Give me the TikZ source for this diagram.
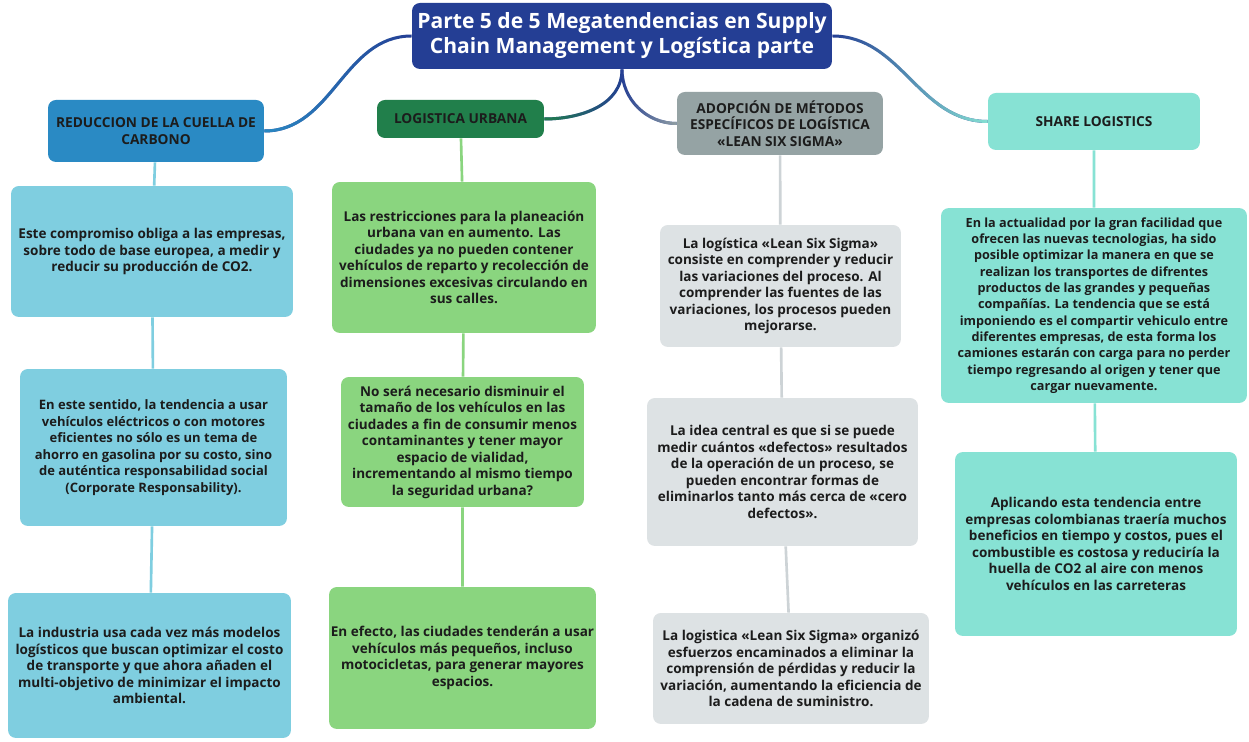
\documentclass[tikz,border=0pt]{standalone}
\usepackage{fontspec}
\setmainfont{Open Sans}
\usetikzlibrary{fadings}

\definecolor{rootblue}{HTML}{243E94}
\definecolor{textdark}{HTML}{1C1C1C}
\definecolor{carbonhead}{HTML}{2A8AC4}
\definecolor{carbonnote}{HTML}{7FCEE0}
\definecolor{urbanhead}{HTML}{217F4B}
\definecolor{urbannote}{HTML}{8AD57F}
\definecolor{leanhead}{HTML}{95A3A4}
\definecolor{leannote}{HTML}{DDE2E4}
\definecolor{leanline}{HTML}{CDD3D6}
\definecolor{sharenote}{HTML}{87E2D4}

\tikzfading[name=fadeleft, left color=transparent!0, right color=transparent!100]
\tikzfading[name=faderight, left color=transparent!100, right color=transparent!0]

\tikzset{
    topic/.style={rounded corners=4.5pt, inner sep=0pt, align=center, text=textdark,
        font=\bfseries\fontsize{7.8}{9.3}\selectfont},
    note/.style={topic, font=\bfseries\fontsize{7.7}{9.4}\selectfont},
    branch/.style={line width=1.7pt},
    twig/.style={line width=1.5pt},
}

\begin{document}
\begin{tikzpicture}[x=0.02cm, y=-0.02cm]
    \fill[white] (0,0) rectangle (1249,742);
    \useasboundingbox (0,0) rectangle (1249,742);

    \node[topic, fill=rootblue, text=white, minimum width=8.4cm, minimum height=1.32cm,
        font=\bfseries\fontsize{12}{14.2}\selectfont] (root) at (622,36)
        {Parte 5 de 5 Megatendencias en Supply\\Chain Management y Logística parte};

    \node[topic, fill=carbonhead, minimum width=4.32cm, minimum height=1.24cm] (carbon) at (156,131)
        {REDUCCION DE LA CUELLA DE\\CARBONO};
    \node[topic, fill=urbanhead, minimum width=3.34cm, minimum height=0.76cm] (urban) at (460.5,119)
        {LOGISTICA URBANA};
    \node[topic, fill=leanhead, minimum width=4.12cm, minimum height=1.26cm] (lean) at (780,123.5)
        {ADOPCIÓN DE MÉTODOS\\ESPECÍFICOS DE LOGÍSTICA\\«LEAN SIX SIGMA»};
    \node[topic, fill=sharenote, minimum width=4.24cm, minimum height=1.14cm] (share) at (1094,121.5)
        {SHARE LOGISTICS};

    \node[note, fill=carbonnote, minimum width=5.64cm, minimum height=2.62cm] (carbon1) at (152,251.5)
        {Este compromiso obliga a las empresas,\\sobre todo de base europea, a medir y\\reducir su producción de CO2.};
    \node[note, fill=carbonnote, minimum width=5.34cm, minimum height=3.14cm,
        font=\bfseries\fontsize{7.4}{9.4}\selectfont] (carbon2) at (153.5,447.5)
        {En este sentido, la tendencia a usar\\vehículos eléctricos o con motores\\eficientes no sólo es un tema de\\ahorro en gasolina por su costo, sino\\de auténtica responsabilidad social\\(Corporate Responsability).};
    \node[note, fill=carbonnote, minimum width=5.66cm, minimum height=2.9cm] (carbon3) at (149.5,665.5)
        {La industria usa cada vez más modelos\\logísticos que buscan optimizar el costo\\de transporte y que ahora añaden el\\multi-objetivo de minimizar el impacto\\ambiental.};

    \node[note, fill=urbannote, minimum width=5.28cm, minimum height=3.02cm] (urban1) at (464,257.5)
        {Las restricciones para la planeación\\urbana van en aumento. Las\\ciudades ya no pueden contener\\vehículos de reparto y recolección de\\dimensiones excesivas circulando en\\sus calles.};
    \node[note, fill=urbannote, minimum width=4.86cm, minimum height=2.6cm] (urban2) at (462.5,442)
        {No será necesario disminuir el\\tamaño de los vehículos en las\\ciudades a fin de consumir menos\\contaminantes y tener mayor\\espacio de vialidad,\\incrementando al mismo tiempo\\la seguridad urbana?};
    \node[note, fill=urbannote, minimum width=5.34cm, minimum height=2.84cm] (urban3) at (462.5,658)
        {En efecto, las ciudades tenderán a usar\\vehículos más pequeños, incluso\\motocicletas, para generar mayores\\espacios.};

    \node[note, fill=leannote, minimum width=4.82cm, minimum height=2.44cm] (lean1) at (780.5,286)
        {La logística «Lean Six Sigma»\\consiste en comprender y reducir\\las variaciones del proceso. Al\\comprender las fuentes de las\\variaciones, los procesos pueden\\mejorarse.};
    \node[note, fill=leannote, minimum width=5.42cm, minimum height=2.96cm] (lean2) at (782.5,472)
        {La idea central es que si se puede\\medir cuántos «defectos» resultados\\de la operación de un proceso, se\\pueden encontrar formas de\\eliminarlos tanto más cerca de «cero\\defectos».};
    \node[note, fill=leannote, minimum width=5.52cm, minimum height=2.22cm] (lean3) at (791,668.5)
        {La logistica «Lean Six Sigma» organizó\\esfuerzos encaminados a eliminar la\\comprensión de pérdidas y reducir la\\variación, aumentando la eficiencia de\\la cadena de suministro.};

    \node[note, fill=sharenote, minimum width=6.12cm, minimum height=3.9cm,
        font=\bfseries\fontsize{7.2}{9.3}\selectfont] (share1) at (1094,305.5)
        {En la actualidad por la gran facilidad que\\ofrecen las nuevas tecnologias, ha sido\\posible optimizar la manera en que se\\realizan los transportes de difrentes\\productos de las grandes y pequeñas\\compañías. La tendencia que se está\\imponiendo es el compartir vehiculo entre\\diferentes empresas, de esta forma los\\camiones estarán con carga para no perder\\tiempo regresando al origen y tener que\\cargar nuevamente.};
    \node[note, fill=sharenote, minimum width=5.64cm, minimum height=3.68cm] (share2) at (1096,544)
        {Aplicando esta tendencia entre\\empresas colombianas traería muchos\\beneficios en tiempo y costos, pues el\\combustible es costosa y reduciría la\\huella de CO2 al aire con menos\\vehículos en las carreteras};

    \draw[branch, rootblue] (root.west) to[out=180, in=0] (carbon.east);
    \draw[branch, carbonhead, path fading=fadeleft] (root.west) to[out=180, in=0] (carbon.east);
    \draw[branch, rootblue] (root.south) to[out=-90, in=0] (urban.east);
    \draw[branch, urbanhead, path fading=fadeleft] (root.south) to[out=-90, in=0] (urban.east);
    \draw[branch, rootblue] (root.south) to[out=-90, in=180] (lean.west);
    \draw[branch, leanhead, path fading=faderight] (root.south) to[out=-90, in=180] (lean.west);
    \draw[branch, rootblue] (root.east) to[out=0, in=180] (share.west);
    \draw[branch, sharenote, path fading=faderight] (root.east) to[out=0, in=180] (share.west);

    \draw[twig, carbonnote] (carbon) -- (carbon1) -- (carbon2) -- (carbon3);
    \draw[twig, urbannote] (urban) -- (urban1) -- (urban2) -- (urban3);
    \draw[twig, leanline] (lean) -- (lean1) -- (lean2) -- (lean3);
    \draw[twig, sharenote] (share) -- (share1) -- (share2);
\end{tikzpicture}
\end{document}
